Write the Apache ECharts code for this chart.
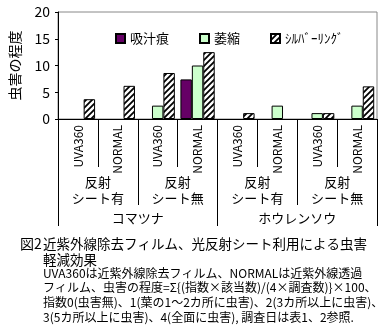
<!DOCTYPE html>
<html><head><meta charset="utf-8">
<script src="https://cdn.jsdelivr.net/npm/echarts@6/dist/echarts.min.js"></script>
<style>html,body{margin:0;padding:0;background:#fff}#c{width:388px;height:329px}</style>
</head><body><div id="c"></div>
<script>
// ---- data ----
const categories = ['UVA360','NORMAL','UVA360','NORMAL','UVA360','NORMAL','UVA360','NORMAL'];
const sheetLabels = ['反射\nシート有','反射\nシート無','反射\nシート有','反射\nシート無'];
const cropLabels = ['コマツナ','ホウレンソウ'];
const seriesNames = ['吸汁痕','萎縮','ｼﾙﾊﾞｰﾘﾝｸﾞ'];
const suckMarks = [null, null, null, 7.4, null, null, null, null];
const atrophy   = [null, null, 2.5, 10.0, null, 2.5, 1.1, 2.5];
const silvering = [3.7, 6.2, 8.6, 12.5, 1.1, null, 1.1, 6.1];
const yTicks = [0, 5, 10, 15, 20];
const yName = '虫害の程度';
const titleLines = ['図2', '近紫外線除去フィルム、光反射シート利用による虫害', '軽減効果'];
const noteLines = [
  'UVA360は近紫外線除去フィルム、NORMALは近紫外線透過',
  'フィルム、虫害の程度=Σ{(指数×該当数)/(4×調査数)}×100、',
  '指数0(虫害無)、1(葉の1～2カ所に虫害)、2(3カ所以上に虫害)、',
  '3(5カ所以上に虫害)、4(全面に虫害), 調査日は表1、2参照.'
];

// hatch pattern
const pc = document.createElement('canvas');
pc.width = 6; pc.height = 6;
const g = pc.getContext('2d');
g.fillStyle = '#fff'; g.fillRect(0,0,6,6);
g.strokeStyle = '#000'; g.lineWidth = 1.8;
g.beginPath();
g.moveTo(-1,7); g.lineTo(7,-1);
g.moveTo(-4,4); g.lineTo(4,-4);
g.moveTo(2,10); g.lineTo(10,2);
g.stroke();

const FONT = '"Noto Sans CJK JP", sans-serif';
const chart = echarts.init(document.getElementById('c'), null, {renderer:'canvas'});
const grid = {left:58, top:12, width:319, height:107, show:true, borderColor:'#888', borderWidth:1, containLabel:false};

const baseX = {type:'category', gridIndex:0, position:'bottom', boundaryGap:true};
chart.setOption({
  animation:false,
  textStyle:{fontFamily:FONT},
  grid: grid,
  legend:{
    left:110, top:27, itemWidth:9, itemHeight:9, itemGap:30,
    icon:'rect',
    textStyle:{fontSize:13, color:'#000', fontFamily:FONT},
    data: seriesNames
  },
  xAxis:[
    Object.assign({}, baseX, {
      data: categories,
      axisLine:{show:true, lineStyle:{color:'#000', width:1}},
      axisTick:{show:true, length:48, lineStyle:{color:'#000'}},
      axisLabel:{rotate:90, margin:6, fontSize:12, color:'#000', fontFamily:FONT}
    }),
    Object.assign({}, baseX, {
      data: sheetLabels,
      axisLine:{show:false},
      axisTick:{show:true, length:86, lineStyle:{color:'#000'}},
      axisLabel:{margin:55, fontSize:13, lineHeight:16, color:'#000', fontFamily:FONT}
    }),
    Object.assign({}, baseX, {
      data: cropLabels,
      axisLine:{show:false},
      axisTick:{show:true, length:107, lineStyle:{color:'#000'}},
      axisLabel:{margin:93, fontSize:13, color:'#000', fontFamily:FONT}
    })
  ],
  yAxis:{
    type:'value', min:yTicks[0], max:yTicks[yTicks.length-1], interval:5,
    name: yName, nameLocation:'middle', nameRotate:90, nameGap:36,
    nameTextStyle:{fontSize:14, color:'#000', fontFamily:FONT},
    axisLine:{show:true, lineStyle:{color:'#000'}},
    axisTick:{show:true, length:3, lineStyle:{color:'#000'}},
    axisLabel:{margin:8, fontSize:14, color:'#000', fontFamily:FONT},
    splitLine:{show:false}
  },
  series:[
    {name:seriesNames[0], type:'bar', data:suckMarks, barGap:'0%', barCategoryGap:'14%',
     itemStyle:{color:'#660066', borderColor:'#000', borderWidth:1}},
    {name:seriesNames[1], type:'bar', data:atrophy, barGap:'0%', barCategoryGap:'14%',
     itemStyle:{color:'#CCFFCC', borderColor:'#000', borderWidth:1}},
    {name:seriesNames[2], type:'bar', data:silvering, barGap:'0%', barCategoryGap:'14%',
     itemStyle:{color:{image:pc, repeat:'repeat'}, borderColor:'#000', borderWidth:1}}
  ],
  graphic:[
    {type:'text', left:20, top:237, style:{text:titleLines[0], font:'14px '+FONT, fill:'#000'}},
    {type:'text', left:43, top:237, style:{text:titleLines[1], font:'13.5px '+FONT, fill:'#000'}},
    {type:'text', left:43, top:253, style:{text:titleLines[2], font:'13.5px '+FONT, fill:'#000'}},
    {type:'text', left:43, top:267, style:{text:noteLines[0], font:'12px '+FONT, fill:'#000'}},
    {type:'text', left:43, top:281, style:{text:noteLines[1], font:'12px '+FONT, fill:'#000'}},
    {type:'text', left:43, top:296, style:{text:noteLines[2], font:'12px '+FONT, fill:'#000'}},
    {type:'text', left:43, top:311, style:{text:noteLines[3], font:'12px '+FONT, fill:'#000'}}
  ]
});
</script></body></html>
